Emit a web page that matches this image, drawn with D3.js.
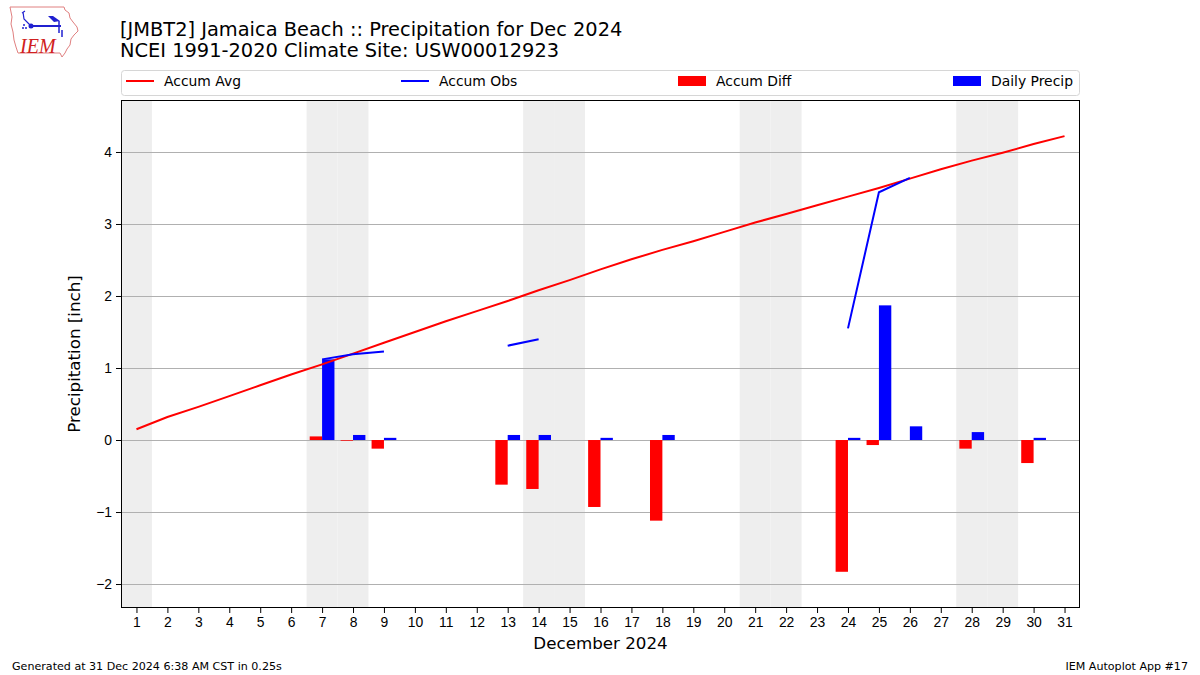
<!DOCTYPE html>
<html>
<head>
<meta charset="utf-8">
<script src="https://cdn.jsdelivr.net/npm/d3@7"></script>
<style>
  body { margin: 0; background: #fff; }
  svg { font-family: "DejaVu Sans", sans-serif; }
</style>
</head>
<body>
<div class="chart"></div>
<script>
// days of December 2024
var days = d3.range(1, 32);
// weekend days to shade (Dec 1 2024 is a Sunday)
var weekends = [1, 7, 8, 14, 15, 21, 22, 28, 29];

var accumAvg = [0.15, 0.32, 0.46, 0.61, 0.76, 0.91, 1.05, 1.20, 1.35, 1.50,
    1.65, 1.79, 1.93, 2.08, 2.22, 2.37, 2.51, 2.64, 2.76, 2.89,
    3.02, 3.14, 3.26, 3.38, 3.50, 3.63, 3.76, 3.88, 3.99, 4.11, 4.22];

// null = no observation / missing
var accumObs = [null, null, null, null, null, null, 1.12, 1.19, 1.23, null,
    null, null, 1.31, 1.40, null, null, null, null, null, null,
    null, null, null, 1.55, 3.44, 3.64, null, null, null, null, null];

var diffDays = [7, 8, 9, 13, 14, 16, 18, 24, 25, 28, 30];
var diffVals = [0.05, -0.01, -0.12, -0.62, -0.68, -0.93, -1.12, -1.83, -0.07, -0.12, -0.32];

var precipDays = [7, 8, 9, 13, 14, 16, 18, 24, 25, 26, 28, 30];
var precipVals = [1.12, 0.07, 0.03, 0.07, 0.07, 0.03, 0.07, 0.03, 1.87, 0.19, 0.11, 0.03];

var yTicks = [-2, -1, 0, 1, 2, 3, 4];

var W = 1200, H = 675;
var pL = 121, pR = 1080, pT = 100, pB = 608;

var svg = d3.select(".chart")
    .append("svg")
    .attr("width", W)
    .attr("height", H)

var x = d3.scaleLinear().domain([0.5, 31.5]).range([pL, pR]);
var y = d3.scaleLinear().domain([-2.333, 4.722]).range([pB, pT]);

// weekend shading
svg.selectAll(".wk")
    .data(weekends)
    .enter().append("rect")
    .attr("x", d => x(d - 0.5))
    .attr("y", pT)
    .attr("width", d => x(d + 0.5) - x(d - 0.5))
    .attr("height", pB - pT)
    .attr("fill", "#eeeeee")

// gridlines
svg.selectAll(".grid")
    .data(yTicks)
    .enter().append("line")
    .attr("x1", pL)
    .attr("x2", pR)
    .attr("y1", d => Math.round(y(d)) + 0.5)
    .attr("y2", d => Math.round(y(d)) + 0.5)
    .style("stroke", "#b0b0b0")
    .style("stroke-width", 1)

// accum diff bars
svg.selectAll(".diff")
    .data(diffDays)
    .enter().append("rect")
    .attr("x", d => x(d - 0.4))
    .attr("width", d => x(d) - x(d - 0.4))
    .attr("y", (d, i) => y(Math.max(0, diffVals[i])))
    .attr("height", (d, i) => Math.abs(y(diffVals[i]) - y(0)))
    .attr("fill", "#ff0000")

// daily precip bars
svg.selectAll(".precip")
    .data(precipDays)
    .enter().append("rect")
    .attr("x", d => x(d))
    .attr("width", d => x(d + 0.4) - x(d))
    .attr("y", (d, i) => y(precipVals[i]))
    .attr("height", (d, i) => y(0) - y(precipVals[i]))
    .attr("fill", "#0000ff")

var line = d3.line()
    .defined(d => d[1] !== null)
    .x(d => x(d[0]))
    .y(d => y(d[1]));

svg.append("path")
    .datum(days.map((d, i) => [d, accumAvg[i]]))
    .attr("d", line)
    .attr("fill", "none")
    .style("stroke", "#ff0000")
    .style("stroke-width", 2)

svg.append("path")
    .datum(days.map((d, i) => [d, accumObs[i]]))
    .attr("d", line)
    .attr("fill", "none")
    .style("stroke", "#0000ff")
    .style("stroke-width", 2)

// axes
var xAxis = svg.append("g")
    .attr("transform", "translate(0," + pB + ")")
    .call(d3.axisBottom(x).tickValues(days).tickSize(5).tickPadding(4))
xAxis.select(".domain").remove()
xAxis.selectAll("text").style("font-size", "13.9px").attr("fill", "#000")

var yAxis = svg.append("g")
    .attr("transform", "translate(" + pL + ",0)")
    .call(d3.axisLeft(y).tickValues(yTicks).tickFormat(d3.format("d")).tickSize(5).tickPadding(4))
yAxis.select(".domain").remove()
yAxis.selectAll("text").style("font-size", "13.9px").attr("fill", "#000")

svg.append("rect")
    .attr("x", pL + 0.5)
    .attr("y", pT + 0.5)
    .attr("width", pR - pL - 1)
    .attr("height", pB - pT - 1)
    .attr("fill", "none")
    .style("stroke", "#000")
    .style("stroke-width", 1)

svg.append("text")
    .attr("x", (pL + pR) / 2)
    .attr("y", 649)
    .attr("text-anchor", "middle")
    .style("font-size", "16.7px")
    .text("December 2024")

svg.append("text")
    .attr("transform", "translate(80," + ((pT + pB) / 2) + ") rotate(-90)")
    .attr("text-anchor", "middle")
    .style("font-size", "16.7px")
    .text("Precipitation [inch]")

// titles
svg.append("text")
    .attr("x", 120)
    .attr("y", 36)
    .style("font-size", "19.4px")
    .text("[JMBT2] Jamaica Beach :: Precipitation for Dec 2024")

svg.append("text")
    .attr("x", 120)
    .attr("y", 57)
    .style("font-size", "19.4px")
    .text("NCEI 1991-2020 Climate Site: USW00012923")

// legend
svg.append("rect")
    .attr("x", pL + 0.5)
    .attr("y", 70.5)
    .attr("width", pR - pL - 1)
    .attr("height", 25)
    .attr("rx", 3)
    .attr("fill", "#fff")
    .style("stroke", "#d6d6d6")
    .style("stroke-width", 1)

var legendItems = [
    { name: "Accum Avg", color: "#ff0000", type: "line", x: 126 },
    { name: "Accum Obs", color: "#0000ff", type: "line", x: 401 },
    { name: "Accum Diff", color: "#ff0000", type: "rect", x: 678 },
    { name: "Daily Precip", color: "#0000ff", type: "rect", x: 953 }
];

legendItems.forEach(function (d) {
    if (d.type === "line") {
        svg.append("line")
            .attr("x1", d.x).attr("x2", d.x + 28)
            .attr("y1", 81).attr("y2", 81)
            .style("stroke", d.color)
            .style("stroke-width", 2)
    } else {
        svg.append("rect")
            .attr("x", d.x).attr("y", 76)
            .attr("width", 28).attr("height", 10)
            .attr("fill", d.color)
    }
    svg.append("text")
        .attr("x", d.x + 38)
        .attr("y", 86)
        .style("font-size", "13.9px")
        .text(d.name)
})

// footer
svg.append("text")
    .attr("x", 12)
    .attr("y", 670)
    .style("font-size", "11.1px")
    .text("Generated at 31 Dec 2024 6:38 AM CST in 0.25s")

svg.append("text")
    .attr("x", 1188)
    .attr("y", 670)
    .attr("text-anchor", "end")
    .style("font-size", "11.1px")
    .text("IEM Autoplot App #17")

// IEM logo (rough)
var logo = svg.append("g")
logo.append("path")
    .attr("d", "M10,7 L64,7 L65,10 L69,13 L70,18 L73,22 L77,27 L78,31 L74,35 L71,39 L70,45 L67,49 L65,53 L62,57 L60,53 L18,53 L16,47 L14,40 L13,32 L11,24 L12,17 Z")
    .attr("fill", "#fff")
    .style("stroke", "#e08080")
    .style("stroke-width", 1)
logo.append("line")
    .attr("x1", 31).attr("y1", 26).attr("x2", 61).attr("y2", 26)
    .style("stroke", "#2020d0").style("stroke-width", 2)
logo.append("circle")
    .attr("cx", 31).attr("cy", 26).attr("r", 2.5).attr("fill", "#2020d0")
logo.append("path")
    .attr("d", "M48,16 L53,16 L60,21 L54,22 Z")
    .attr("fill", "#2020d0")
logo.append("line")
    .attr("x1", 59).attr("y1", 21).attr("x2", 59).attr("y2", 33)
    .style("stroke", "#2020d0").style("stroke-width", 1.5)
logo.append("line")
    .attr("x1", 62).attr("y1", 30).attr("x2", 62).attr("y2", 37)
    .style("stroke", "#2020d0").style("stroke-width", 1.5)
logo.append("path")
    .attr("d", "M22,13 L25,11 M23,12 L24,19 L30,25")
    .attr("fill", "none")
    .style("stroke", "#2020d0").style("stroke-width", 1.2)
logo.append("circle").attr("cx", 24).attr("cy", 25).attr("r", 1).attr("fill", "#2020d0")
logo.append("circle").attr("cx", 23).attr("cy", 28).attr("r", 1).attr("fill", "#2020d0")
logo.append("circle").attr("cx", 26).attr("cy", 28).attr("r", 1).attr("fill", "#2020d0")
logo.append("text")
    .attr("x", 20)
    .attr("y", 53)
    .style("font-family", "'Liberation Serif', serif")
    .style("font-style", "italic")
    .style("font-size", "20px")
    .attr("fill", "#d02020")
    .text("IEM")
</script>
</body>
</html>
